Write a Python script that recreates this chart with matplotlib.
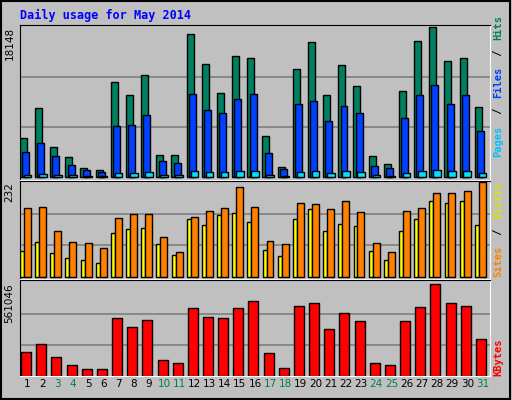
import matplotlib
matplotlib.use("Agg")
import matplotlib.pyplot as plt
import numpy as np

days = list(range(1, 32))
weekend = [3, 4, 10, 11, 17, 18, 24, 25, 31]

hits = [4759, 8389, 3670, 2460, 1129, 887, 11534, 9961, 12381, 2702, 2702, 17342, 13712, 10203, 14680, 14438,
        5001, 1250, 13107, 16374, 9961, 13591, 11050, 2581, 1613, 10445, 16495, 18148, 14075, 14438, 8510]
files = [3065, 4154, 2581, 1492, 887, 645, 6211, 6332, 7542, 1976, 1734, 10083, 8147, 7784, 9478, 10083,
         2944, 1008, 8873, 9236, 6816, 8631, 7784, 1371, 1129, 7179, 9962, 11172, 8873, 9962, 5606]
pages = [282, 403, 282, 282, 121, 121, 524, 524, 645, 282, 282, 766, 645, 645, 766, 766,
         282, 121, 645, 766, 524, 766, 645, 282, 121, 524, 766, 887, 766, 766, 524]
sites = [169, 171, 111, 86, 83, 71, 144, 154, 154, 98, 61, 146, 161, 169, 219, 171,
         88, 81, 181, 179, 166, 186, 159, 83, 61, 161, 169, 204, 204, 209, 232]
visits = [63, 86, 58, 46, 41, 33, 108, 116, 118, 81, 53, 141, 126, 151, 156, 134,
          66, 51, 141, 166, 113, 129, 124, 63, 41, 113, 141, 186, 181, 186, 126]
kbytes = [142800, 191760, 112200, 63240, 38760, 38760, 350880, 295800, 338640, 93840, 75480, 412080, 357000,
          350880, 412080, 454920, 136680, 44880, 424320, 442680, 283560, 381480, 332520, 75480, 63240, 332520,
          418200, 561046, 442680, 424320, 222360]

bg = '#c0c0c0'
mono = 'DejaVu Sans Mono'
fig = plt.figure(figsize=(5.12, 4), dpi=100, facecolor=bg)
x = np.array(days)
ec = dict(edgecolor='black', linewidth=1)

def setup(ax, top, pad_lo, pad_hi):
    ax.set_facecolor(bg)
    ax.set_xlim(0.5, 31.5)
    ax.set_ylim(-pad_lo * top, top * (1 + pad_hi))
    for f in (1 / 3, 2 / 3):
        ax.axhline(top * f, color='#808080', lw=1.2, zorder=0)
    ax.set_xticks([])
    ax.set_yticks([])
    for s in ax.spines.values():
        s.set_color('black')
    ax.spines['right'].set_color('white')
    ax.spines['bottom'].set_color('white')

L, W = 20 / 512, 470 / 512
ax1 = fig.add_axes([L, 0.55, W, 0.3875])
setup(ax1, max(hits), 0.02, 0.013)
ax1.bar(x - 0.28, hits, width=0.46, color='#008060', zorder=2, **ec)
ax1.bar(x - 0.13, files, width=0.46, color='#0040ff', zorder=3, **ec)
ax1.bar(x, pages, width=0.5, color='#00e0ff', zorder=4, **ec)

ax2 = fig.add_axes([L, 0.3025, W, 0.245])
setup(ax2, max(sites), 0.025, 0.01)
ax2.bar(x - 0.37, visits, width=0.26, color='#ffff00', zorder=2, **ec)
ax2.bar(x - 0.01, sites, width=0.46, color='#ff8000', zorder=3, **ec)

ax3 = fig.add_axes([L, 0.06, W, 0.24])
setup(ax3, max(kbytes), 0.005, 0.04)
ax3.bar(x - 0.1, kbytes, width=0.66, color='#ff0000', zorder=2, **ec)

for d in days:
    ax3.text(d, -0.03, str(d), transform=ax3.get_xaxis_transform(), ha='center', va='top',
             fontsize=7.5, color='#008040' if d in weekend else 'black')

fig.text(20 / 512, 1 - 15 / 400, 'Daily usage for May 2014', color='#0000ff', family=mono,
         fontweight='bold', fontsize=8.5, va='center')

for ax, top, lbl in ((ax1, max(hits), '18148'), (ax2, max(sites), '232'), (ax3, max(kbytes), '561046')):
    ax.text(-0.012, top, lbl, transform=ax.get_yaxis_transform(), rotation=90, ha='right', va='top',
            fontsize=7.5)

def side_label(ax, parts, y0):
    y = y0
    for txt, col in parts:
        t = ax.text(1.018, y, txt, transform=ax.transAxes, rotation=90, ha='center', va='bottom',
                    color=col, family=mono, fontweight='bold', fontsize=7.5)
        y += len(txt) * 0.047 * (0.3875 / ax.get_position().height)

side_label(ax1, [('Pages', '#00c0ff'), (' / ', 'black'), ('Files', '#0040ff'), (' / ', 'black'), ('Hits', '#008060')], 0.15)
side_label(ax2, [('Sites', '#ff8000'), (' / ', 'black'), ('Visits', '#e0e000')], 0.02)
side_label(ax3, [('KBytes', '#ff0000')], 0.0)

fig.patches.append(plt.Rectangle((0.002, 0.003), 0.995, 0.994, transform=fig.transFigure,
                                 fill=False, edgecolor='black', lw=1.5))
fig.savefig('out.png', dpi=100, facecolor=bg)
